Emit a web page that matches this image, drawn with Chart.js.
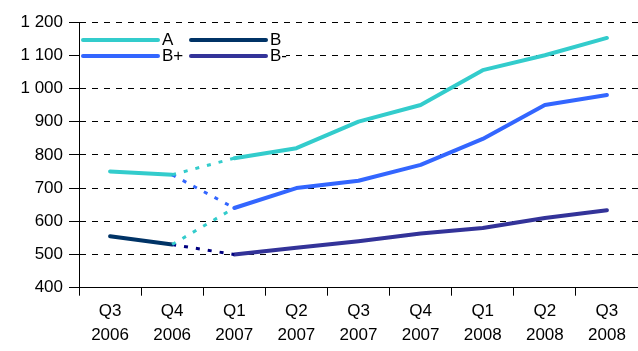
<!DOCTYPE html>
<html>
<head>
<meta charset="utf-8">
<script src="https://cdn.jsdelivr.net/npm/chart.js@4/dist/chart.umd.min.js"></script>
<style>
  html, body { margin: 0; padding: 0; background: #fff; }
  #wrap { width: 638px; height: 351px; }
</style>
</head>
<body>
<div id="wrap"><canvas id="c" width="638" height="351"></canvas></div>
<script>
// Quarterly categories (two-line labels)
const categories = [
  ["Q3", "2006"], ["Q4", "2006"], ["Q1", "2007"], ["Q2", "2007"], ["Q3", "2007"],
  ["Q4", "2007"], ["Q1", "2008"], ["Q2", "2008"], ["Q3", "2008"]
];

// Series values
const seriesA      = [750, 740, 790, 820, 900, 950, 1055, 1100, 1152];
const seriesB      = [555, 530, null, null, null, null, null, null, null];
const seriesBPlus  = [null, null, 640, 700, 722, 770, 848, 950, 980];
const seriesBMinus = [null, null, 500, 520, 540, 563, 580, 610, 633];

// Value axis
const yMin = 400, yMax = 1200, yStep = 100;

const seriesNames = ["A", "B", "B+", "B-"];
const colors = {
  A: "#33CCCC",
  B: "#003366",
  BPlus: "#3366FF",
  BMinus: "#333399",
  navy: "#000080"
};

// Index of the quarter where the series break (Q4 2006 -> Q1 2007)
const breakIndex = 1;

// Dotted transition segments between Q4 2006 and Q1 2007
const link = (from, to) => categories.map((_, i) =>
  i === breakIndex ? from[breakIndex] : (i === breakIndex + 1 ? to[breakIndex + 1] : null));

const solid = (label, data, color) => ({
  label, data, borderColor: color, backgroundColor: color,
  borderWidth: 4, pointRadius: 0, tension: 0,
  borderCapStyle: "round", borderJoinStyle: "round",
  // the solid line is interrupted across the break; the dotted link covers it
  segment: { borderColor: ctx => ctx.p0DataIndex === breakIndex ? "rgba(0,0,0,0)" : undefined }
});
const dotted = (data, color) => ({
  label: "", data, borderColor: color, backgroundColor: color,
  borderWidth: 3, pointRadius: 0, tension: 0, borderDash: [4, 8],
  borderCapStyle: "butt"
});

// thousands separated by a space: 1 200
const fmt = v => String(v).replace(/\B(?=(\d{3})+(?!\d))/g, " ");

const FONT = "'Liberation Sans', Arial, sans-serif";

// Two-column legend drawn over the top-left of the plot
const legendPlugin = {
  id: "quadLegend",
  afterDraw(chart) {
    const ctx = chart.ctx;
    ctx.save();
    ctx.fillStyle = "#fff";
    ctx.fillRect(80, 30, 206, 33);
    const items = [
      { name: seriesNames[0], color: colors.A, x: 83, y: 40 },
      { name: seriesNames[1], color: colors.B, x: 191, y: 40 },
      { name: seriesNames[2], color: colors.BPlus, x: 83, y: 56 },
      { name: seriesNames[3], color: colors.BMinus, x: 191, y: 56 }
    ];
    ctx.font = "17px " + FONT;
    ctx.textBaseline = "alphabetic";
    ctx.textAlign = "left";
    items.forEach(it => {
      ctx.strokeStyle = it.color;
      ctx.lineWidth = 4;
      ctx.lineCap = "round";
      ctx.beginPath();
      ctx.moveTo(it.x, it.y);
      ctx.lineTo(it.x + 75, it.y);
      ctx.stroke();
      ctx.fillStyle = "#000";
      ctx.fillText(it.name, it.x + 79, it.y + 5);
    });
    ctx.restore();
  }
};

new Chart(document.getElementById("c"), {
  type: "line",
  data: {
    labels: categories,
    datasets: [
      dotted(link(seriesA, seriesA), colors.A),
      dotted(link(seriesA, seriesBPlus), colors.BPlus),
      dotted(link(seriesB, seriesBPlus), colors.A),
      dotted(link(seriesB, seriesBMinus), colors.navy),
      solid(seriesNames[0], seriesA, colors.A),
      solid(seriesNames[1], seriesB, colors.B),
      solid(seriesNames[2], seriesBPlus, colors.BPlus),
      solid(seriesNames[3], seriesBMinus, colors.BMinus)
    ]
  },
  options: {
    responsive: false,
    animation: false,
    spanGaps: false,
    layout: { padding: { top: 22, right: -6, bottom: 0, left: 0 } },
    plugins: { legend: { display: false }, tooltip: { enabled: false } },
    scales: {
      x: {
        offset: true,
        grid: { offset: true, drawOnChartArea: false, color: "#000", tickLength: 8 },
        border: { color: "#000", width: 1 },
        ticks: {
          color: "#000", padding: 3, maxRotation: 0, autoSkip: false,
          font: { family: FONT, size: 17, lineHeight: 1.45 }
        }
      },
      y: {
        min: yMin, max: yMax,
        afterFit(scale) { scale.width = 79; },
        grid: { color: "#000", lineWidth: 1, tickLength: 10, tickColor: "#000" },
        border: { color: "#000", width: 1, dash: [6, 6] },
        ticks: {
          stepSize: yStep, color: "#000", padding: 6,
          font: { family: FONT, size: 17 },
          callback: v => fmt(v)
        }
      }
    }
  },
  plugins: [legendPlugin]
});
</script>
</body>
</html>
